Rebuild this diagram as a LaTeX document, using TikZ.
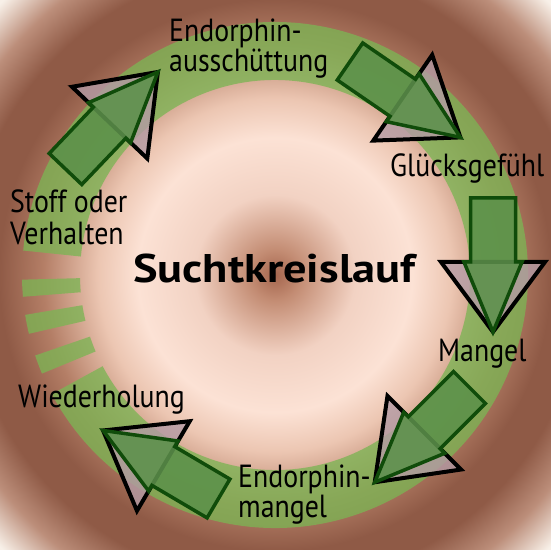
\documentclass[tikz,border=0pt]{standalone}
\usepackage{fontspec}
\setmainfont{PT Sans}[FakeStretch=0.87]
\newfontfamily\titelfont{PT Sans}[FakeStretch=1.16]
\definecolor{kern}{RGB}{165,102,78}
\definecolor{kernhell}{RGB}{195,140,115}
\definecolor{rosa1}{RGB}{242,210,195}
\definecolor{rosa}{RGB}{252,226,213}
\definecolor{rosa2}{RGB}{236,198,178}
\definecolor{braun1}{RGB}{180,126,102}
\definecolor{braun}{RGB}{143,90,70}
\definecolor{braun2}{RGB}{188,142,122}
\definecolor{ecke}{RGB}{248,240,232}
\definecolor{ringgruen}{RGB}{124,180,84}
\definecolor{pfeilfuell}{RGB}{92,145,74}
\definecolor{pfeilrand}{RGB}{16,76,10}
\definecolor{kopffarbe}{RGB}{180,155,165}
%stops in bp, used at natural size (1bp = 1px here)
\pgfdeclareradialshading{hintergrund}{\pgfpoint{0bp}{0bp}}{%
  color(0bp)=(kern); color(25bp)=(kernhell); color(80bp)=(rosa1);
  color(137bp)=(rosa); color(176bp)=(rosa2); color(231bp)=(braun1);
  color(275bp)=(braun); color(308bp)=(braun); color(346bp)=(braun2);
  color(385bp)=(ecke); color(392bp)=(ecke)}
\tikzset{
    ring/.style={line width=58pt, draw=ringgruen, draw opacity=0.78},
    kopfrand/.style={draw=black, line width=4pt, fill=kopffarbe, fill opacity=0.8},
    pfeilgruen/.style={draw=pfeilrand, line width=3.5pt, fill=pfeilfuell, fill opacity=0.88},
    schild/.style={font=\fontsize{32}{30}\selectfont, inner sep=0pt, anchor=base west, align=left},
}
\newcommand{\blockpfeil}[2]{%
    \begin{scope}[shift={#1}, rotate=#2]
        %wide head with black rim
        \draw[kopfrand] (64,-52) -- (134,0) -- (64,52) -- cycle;
        %green shaft with narrow head
        \draw[pfeilgruen] (0,-22.5) -- (64,-22.5) -- (64,-29) -- (134,0)
            -- (64,29) -- (64,22.5) -- (0,22.5) -- cycle;
    \end{scope}}

\begin{document}
\begin{tikzpicture}[x=1pt, y=1pt]
        %background
        \useasboundingbox (0,0) rectangle (550,550);
        \coordinate (mitte) at (275,275);
        \node[inner sep=0pt] (hintergrund) at (mitte) {\pgfuseshading{hintergrund}};
        %green ring with gap on the left
        \draw[ring] (mitte) ++(208:224) arc[start angle=208, end angle=534.5, radius=224];
        \foreach \a/\b in {181/185, 189/193.5, 198.5/203}
            \draw[ring] (mitte) ++(\a:224) arc[start angle=\a, end angle=\b, radius=224];
        %block arrows
        \blockpfeil{(65.5,381)}{46.4}
        \blockpfeil{(350,488.5)}{-34.5}
        \blockpfeil{(493,352)}{-90}
        \blockpfeil{(469.5,162.5)}{-135}
        \blockpfeil{(218.5,51.5)}{149.5}
        %labels
        \node[schild] (ausschuettung) at (169,478) {Endorphin-\\ausschüttung};
        \node[schild] (gluecksgefuehl) at (390,373) {Glücksgefühl};
        \node[schild] (mangel) at (438,188) {Mangel};
        \node[schild] (endorphinmangel) at (238,32) {Endorphin-\\mangel};
        \node[schild] (wiederholung) at (18,142) {Wiederholung};
        \node[schild, font=\fontsize{32}{32}\selectfont] (stoff) at (10,305) {Stoff oder\\Verhalten};
        %title
        \node[inner sep=0pt, anchor=base west, font=\titelfont\bfseries\fontsize{40}{40}\selectfont] (titel) at (133,267) {Suchtkreislauf};
\end{tikzpicture}
\end{document}
